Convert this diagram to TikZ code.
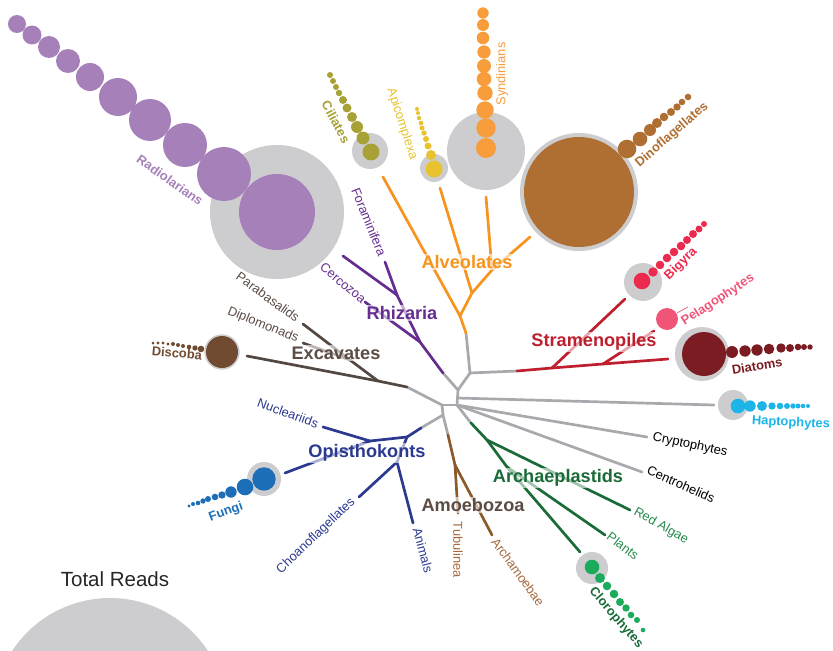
\documentclass[tikz,border=0pt]{standalone}
\usepackage{fontspec}
\setmainfont{Liberation Sans}
\usetikzlibrary{calc,positioning}

\definecolor{treegray}{HTML}{A7A9AC}
\definecolor{readgray}{HTML}{CDCDCF}
\definecolor{alvorange}{HTML}{F7941D}
\definecolor{rhipurple}{HTML}{662D91}
\definecolor{radpurple}{HTML}{A680B9}
\definecolor{cilolive}{HTML}{A7A136}
\definecolor{apiyellow}{HTML}{E8C22F}
\definecolor{synorange}{HTML}{F79D3B}
\definecolor{dinobrown}{HTML}{AF6F32}
\definecolor{strred}{HTML}{BE1E2D}
\definecolor{bigred}{HTML}{EC2A4E}
\definecolor{pelpink}{HTML}{F05578}
\definecolor{diared}{HTML}{7A1C21}
\definecolor{hapcyan}{HTML}{1DB4E8}
\definecolor{excbrown}{HTML}{534741}
\definecolor{disbrown}{HTML}{714B31}
\definecolor{opiblue}{HTML}{2B3990}
\definecolor{funblue}{HTML}{1C6FB7}
\definecolor{amobrown}{HTML}{8B5A2B}
\definecolor{amolabel}{HTML}{A6693E}
\definecolor{arcgreen}{HTML}{1A6B38}
\definecolor{arclabel}{HTML}{258A4A}
\definecolor{clogreen}{HTML}{1AAB5B}
\definecolor{labelgray}{HTML}{5B4C44}

\begin{document}
\begin{tikzpicture}[
    x=0.3mm, y=-0.3mm,
    branch/.style={line width=2.3pt, line cap=round, line join=round},
    taxon/.style={font=\fontsize{11}{13}\selectfont, inner sep=0pt},
    taxonb/.style={font=\fontsize{11}{13}\selectfont\bfseries, inner sep=0pt},
    group/.style={font=\fontsize{15.5}{18}\selectfont\bfseries, inner sep=1pt,
        fill=white, fill opacity=0.6, text opacity=1}
]

% FIXED BOUNDING BOX (page = 833 x 650 px)
\path[use as bounding box] (0,0) rectangle (833,650);

% junctions of the tree
\coordinate (r0) at (442,405);
\coordinate (r1) at (457,405);
\coordinate (r5) at (457,398);
\coordinate (r2) at (458,390);
\coordinate (r3) at (470,373);
\coordinate (r4) at (443,415);
\coordinate (exc0) at (407,387);
\coordinate (exc1) at (378,381);
\coordinate (exc2) at (350,360);
\coordinate (rhi0) at (443,373);
\coordinate (rhi1) at (420,342);
\coordinate (rhi2) at (397,295);
\coordinate (alv0) at (466,333);
\coordinate (alv1) at (460,316);
\coordinate (alv2) at (472,293);
\coordinate (alv3) at (492,270);
\coordinate (str0) at (517,371);
\coordinate (str1) at (552,368);
\coordinate (str2) at (603,364);
\coordinate (arc0) at (471,423);
\coordinate (arc1) at (487,440);
\coordinate (arc2) at (507,467);
\coordinate (amo0) at (448,435);
\coordinate (amo1) at (455,465);
\coordinate (opi0) at (421,428);
\coordinate (opi1) at (407,437);
\coordinate (opi2) at (370,441);
\coordinate (opi3) at (397,462);

% tips
\coordinate (parend) at (303,324);
\coordinate (dipend) at (303,343);
\coordinate (disend) at (247,356);
\coordinate (cerend) at (365,302);
\coordinate (radend) at (343,256);
\coordinate (forend) at (385,262);
\coordinate (cilend) at (383,177);
\coordinate (apiend) at (440,188);
\coordinate (synend) at (486,197);
\coordinate (dinend) at (530,237);
\coordinate (bigend) at (625,299);
\coordinate (pelend) at (654,331);
\coordinate (diaend) at (668,359);
\coordinate (hapend) at (714,405);
\coordinate (cryend) at (647,437);
\coordinate (cenend) at (642,472);
\coordinate (redend) at (630,510);
\coordinate (plaend) at (605,535);
\coordinate (cloend) at (580,552);
\coordinate (tubend) at (458,513);
\coordinate (armend) at (492,535);
\coordinate (nucend) at (323,427);
\coordinate (funend) at (285,473);
\coordinate (choend) at (359,497);
\coordinate (aniend) at (413,523);
\coordinate (peltickA) at (677,313);
\coordinate (peltickB) at (688,307);

% branches
\foreach \a/\b in {r0/r1, r1/r2, r2/r3, r0/exc0, r2/rhi0, r3/alv0, r3/str0,
    r0/r4, r4/opi0, r4/amo0, r5/hapend, r1/cryend, r1/cenend, r1/arc0}
    \draw[branch, treegray] (\a) -- (\b);
\foreach \a/\b in {alv0/alv1, alv1/cilend, alv1/alv2, alv2/apiend, alv2/alv3,
    alv3/synend, alv3/dinend}
    \draw[branch, alvorange] (\a) -- (\b);
\foreach \a/\b in {rhi0/rhi1, rhi1/cerend, rhi1/rhi2, rhi2/radend, rhi2/forend}
    \draw[branch, rhipurple] (\a) -- (\b);
\foreach \a/\b in {exc0/exc1, exc1/disend, exc1/exc2, exc2/parend, exc2/dipend}
    \draw[branch, excbrown] (\a) -- (\b);
\foreach \a/\b in {str0/str1, str1/str2, str2/diaend, str1/bigend, str2/pelend}
    \draw[branch, strred] (\a) -- (\b);
\foreach \a/\b in {arc0/arc1, arc1/redend, arc1/arc2, arc2/plaend, arc2/cloend}
    \draw[branch, arcgreen] (\a) -- (\b);
\foreach \a/\b in {amo0/amo1, amo1/tubend, amo1/armend}
    \draw[branch, amobrown] (\a) -- (\b);
\foreach \a/\b in {opi0/opi1, opi1/opi2, opi2/nucend, opi2/funend, opi1/opi3,
    opi3/choend, opi3/aniend}
    \draw[branch, opiblue] (\a) -- (\b);
\draw[pelpink, line width=0.6pt] (peltickA) -- (peltickB);

% total reads (grey) and read circles
\fill[readgray] (110,715) circle (117);
\fill[readgray] (277,212) circle (67);
\fill[readgray] (370,151) circle (18);
\fill[readgray] (434,168) circle (14);
\fill[readgray] (486,151) circle (39);
\fill[readgray] (579,192) circle (59);
\fill[readgray] (643,282) circle (19);
\fill[readgray] (702,354) circle (27);
\fill[readgray] (733,405) circle (15);
\fill[readgray] (592,568) circle (16);
\fill[readgray] (264,479) circle (17);
\fill[readgray] (222,352) circle (17.7);

\fill[radpurple] (277,212) circle (38);
\foreach \x/\y/\r in {17/24/9, 32/35/9.5, 49/47/11, 68/61/12, 90/77/14,
    118/97/19, 150/120/21, 185/145/22, 224/174/27}
    \fill[radpurple] (\x,\y) circle (\r);
\fill[cilolive] (371,152) circle (8.5);
\foreach \x/\y/\r in {363/138/6.5, 357/127/6, 352/117/5, 347/108/4.5, 343/100/4,
    339/93/3.2, 336/87/3, 333/81/3, 330/75/3}
    \fill[cilolive] (\x,\y) circle (\r);
\fill[apiyellow] (434,169) circle (8.5);
\foreach \x/\y/\r in {431/155/5, 428/146/3.5, 426/139/3, 424/133/2.7, 422/128/2.5,
    421/123/2.3, 419/118/2.2, 418/113/2, 417/109/2}
    \fill[apiyellow] (\x,\y) circle (\r);
\foreach \x/\y/\r in {486/148/10, 486/128/9.7, 485/110/8.7, 485/93/7.7, 484/79/7.3,
    484/66/7, 484/52/6.7, 483/38/6.3, 483/25/6, 483/13/5.7}
    \fill[synorange] (\x,\y) circle (\r);
\fill[dinobrown] (579,192) circle (55);
\foreach \x/\y/\r in {627/149/9.3, 640/139/7.3, 650/130/6, 657/123/5, 664/117/4.3,
    671/112/4, 677/107/3.7, 682/102/3.3, 688/97/3.3}
    \fill[dinobrown] (\x,\y) circle (\r);
\fill[bigred] (642,281) circle (8.3);
\foreach \x/\y/\r in {653/272/4.7, 660/265/4.3, 667/258/4.3, 674/252/4.3, 681/246/4.3,
    687/240/4, 693/234/4, 699/229/3.5, 704/224/3}
    \fill[bigred] (\x,\y) circle (\r);
\fill[pelpink] (667,319) circle (11);
\fill[diared] (704,354) circle (22);
\foreach \x/\y/\r in {732/352/6, 745/351/5.7, 757/350/5.7, 769/349/5.3, 781/348/4.7,
    790/348/4, 798/347/3.3, 804/347/3, 810/347/2.7}
    \fill[diared] (\x,\y) circle (\r);
\fill[hapcyan] (738,406) circle (7.3);
\foreach \x/\y/\r in {750/406/5.7, 762/406/5, 772/406/3.7, 780/406/3.3, 787/406/3,
    793/406/2.7, 798/406/2.5, 803/406/2.3, 808/406/2}
    \fill[hapcyan] (\x,\y) circle (\r);
\fill[clogreen] (592,567) circle (7.3);
\foreach \x/\y/\r in {600/578/5, 607/586/4.3, 614/594/4.3, 620/602/4, 626/608/3.7,
    631/615/3.3, 637/620/3, 643/630/2.3}
    \fill[clogreen] (\x,\y) circle (\r);
\fill[funblue] (264,479) circle (11.7);
\foreach \x/\y/\r in {245/487/8.3, 231/492/5.7, 222/495/3.7, 215/497/3.3, 208/499/3,
    203/501/2.7, 198/503/2.3, 193/504/2, 189/506/1.7}
    \fill[funblue] (\x,\y) circle (\r);
\fill[disbrown] (222,352) circle (16);
\foreach \x/\y/\r in {201/349/3.3, 195/348/2.7, 189/347/2.3, 183/346/2, 178/345/2,
    173/344/2, 168/344/1.7, 163/343/1.7, 158/343/1.7, 153/343/1.5}
    \fill[disbrown] (\x,\y) circle (\r);

% taxon labels
\node[taxonb, text=radpurple, rotate=-35] (radiolarians) at (170,180) {Radiolarians};
\node[taxonb, text=cilolive, rotate=-62] (ciliates) at (336,122) {Ciliates};
\node[taxon, text=apiyellow, rotate=-72] (apicomplexa) at (402,124) {Apicomplexa};
\node[taxon, text=synorange, rotate=90] (syndinians) at (502,74) {Syndinians};
\node[taxonb, text=dinobrown, rotate=41] (dinoflagellates) at (672,135) {Dinoflagellates};
\node[taxonb, text=bigred, rotate=45] (bigyra) at (681,264) {Bigyra};
\node[taxonb, text=pelpink, rotate=33] (pelagophytes) at (718,300) {Pelagophytes};
\node[taxonb, text=diared, rotate=10] (diatoms) at (757,366) {Diatoms};
\node[taxonb, text=hapcyan, rotate=-3] (haptophytes) at (791,423) {Haptophytes};
\node[taxon, rotate=-12] (cryptophytes) at (690,445) {Cryptophytes};
\node[taxon, rotate=-24] (centrohelids) at (681,484) {Centrohelids};
\node[taxon, text=arclabel, rotate=-29] (redalgae) at (661,526) {Red Algae};
\node[taxon, text=arclabel, rotate=-37] (plants) at (623,546) {Plants};
\node[taxonb, text=arcgreen, rotate=-49] (clorophytes) at (616,618) {Clorophytes};
\node[taxon, text=amolabel, rotate=-54] (archamoebae) at (518,572) {Archamoebae};
\node[taxon, text=amolabel, rotate=-90] (tubulinea) at (458,550) {Tubulinea};
\node[taxon, text=opiblue, rotate=-75] (animals) at (423,550) {Animals};
\node[taxon, text=opiblue, rotate=44] (choanoflagellates) at (316,536) {Choanoflagellates};
\node[taxonb, text=funblue, rotate=20] (fungi) at (226,512) {Fungi};
\node[taxon, text=opiblue, rotate=-20] (nucleariids) at (288,413) {Nucleariids};
\node[taxonb, text=disbrown, rotate=-5] (discoba) at (177,353) {Discoba};
\node[taxon, text=labelgray, rotate=-36] (parabasalids) at (268,297) {Parabasalids};
\node[taxon, text=labelgray, rotate=-22] (diplomonads) at (263,325) {Diplomonads};
\node[taxon, text=rhipurple, rotate=-40] (cercozoa) at (343,283) {Cercozoa};
\node[taxon, text=rhipurple, rotate=-68] (foraminifera) at (369,222) {Foraminifera};

% supergroup labels
\node[group, text=alvorange] (alveolates) at (467,262) {Alveolates};
\node[group, text=rhipurple] (rhizaria) at (402,313) {Rhizaria};
\node[group, text=labelgray] (excavates) at (336,353) {Excavates};
\node[group, text=strred] (stramenopiles) at (594,342) {Stramenopiles};
\node[group, text=opiblue] (opisthokonts) at (367,453) {Opisthokonts};
\node[group, text=labelgray] (amoebozoa) at (473,505) {Amoebozoa};
\node[group, text=arcgreen] (archaeplastids) at (558,478) {Archaeplastids};

\node[font=\fontsize{17.5}{20}\selectfont, text=black!85] (totalreads) at (115,579) {Total Reads};

\end{tikzpicture}
\end{document}
